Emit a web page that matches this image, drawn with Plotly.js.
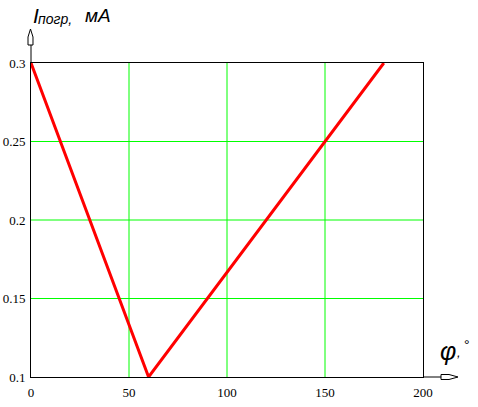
<!DOCTYPE html>
<html>
<head>
<meta charset="utf-8">
<script src="https://cdn.plot.ly/plotly-3.0.1.min.js"></script>
<style>html,body{margin:0;padding:0;background:#fff;}#chart{width:478px;height:407px;}</style>
</head>
<body>
<div id="chart"></div>
<script>
// Data
const phi = [0, 60, 180];
const current = [0.3, 0.1, 0.3];
const xTicks = [0, 50, 100, 150, 200];
const xTickLabels = ['0', '50', '100', '150', '200'];
const yTicks = [0.1, 0.15, 0.2, 0.25, 0.3];
const yTickLabels = ['0.1', '0.15', '0.2', '0.25', '0.3'];

const W = 478, H = 407;
const M = {l: 31, r: 55, t: 63, b: 30};
const pw = W - M.l - M.r, ph = H - M.t - M.b;
// pixel -> paper helpers for decorations (axis arrows)
const px = x => (x - M.l) / pw;
const py = y => (H - M.b - y) / ph;
function path(pts) {
  return 'M' + pts.map(p => px(p[0]).toFixed(5) + ',' + py(p[1]).toFixed(5)).join(' L') + ' Z';
}

const trace = {
  x: phi, y: current, type: 'scatter', mode: 'lines',
  line: {color: '#ff0000', width: 3}, hoverinfo: 'none'
};

const GRID = '#00ff00';
const gridShapes = [];
xTicks.slice(1, -1).forEach(v => gridShapes.push({type: 'line', layer: 'below', xref: 'x', yref: 'paper', x0: v, x1: v, y0: 0, y1: 1, line: {color: GRID, width: 1}}));
yTicks.slice(1, -1).forEach(v => gridShapes.push({type: 'line', layer: 'below', xref: 'paper', yref: 'y', x0: 0, x1: 1, y0: v, y1: v, line: {color: GRID, width: 1}}));

const tickFont = {family: 'Liberation Serif', size: 13, color: '#000'};
const sans = 'Liberation Sans';
const layout = {
  width: W, height: H,
  margin: M,
  paper_bgcolor: '#fff', plot_bgcolor: '#fff',
  showlegend: false,
  xaxis: {
    range: [0, 200], tickvals: xTicks, ticktext: xTickLabels,
    showgrid: false, zeroline: false, showline: true, mirror: true, linecolor: '#000', linewidth: 1,
    ticks: '', tickfont: tickFont, ticklabelstandoff: 3, fixedrange: true
  },
  yaxis: {
    range: [0.1, 0.3], tickvals: yTicks, ticktext: yTickLabels,
    showgrid: false, zeroline: false, showline: true, mirror: true, linecolor: '#000', linewidth: 1,
    ticks: '', tickfont: tickFont, ticklabelstandoff: 2, fixedrange: true
  },
  shapes: gridShapes.concat([
    // y axis extension + arrow head
    {type: 'line', xref: 'paper', yref: 'paper', x0: 0, x1: 0, y0: 1, y1: py(45), line: {color: '#000', width: 1}},
    {type: 'path', xref: 'paper', yref: 'paper', path: path([[28,45],[28,37],[30.5,29],[33,37],[33,45]]), line: {color: '#000', width: 1}, fillcolor: '#fff'},
    // x axis extension + arrow head
    {type: 'line', xref: 'paper', yref: 'paper', x0: 1, x1: px(441), y0: 0, y1: 0, line: {color: '#000', width: 1}},
    {type: 'path', xref: 'paper', yref: 'paper', path: path([[441,374.5],[449,374.5],[458,377],[449,379.5],[441,379.5]]), line: {color: '#000', width: 1}, fillcolor: '#fff'}
  ]),
  annotations: [
    {xref: 'paper', yref: 'paper', x: px(31), y: py(29), xanchor: 'left', yanchor: 'bottom', showarrow: false,
     text: '<i>I</i>', font: {family: sans, size: 21, color: '#000'}},
    {xref: 'paper', yref: 'paper', x: px(36), y: py(29), xanchor: 'left', yanchor: 'bottom', showarrow: false,
     text: '<i>погр,</i>', font: {family: sans, size: 14, color: '#000'}},
    {xref: 'paper', yref: 'paper', x: px(83), y: py(28), xanchor: 'left', yanchor: 'bottom', showarrow: false,
     text: '<i>мА</i>', font: {family: sans, size: 19, color: '#000'}},
    {xref: 'paper', yref: 'paper', x: px(438), y: py(367), xanchor: 'left', yanchor: 'bottom', showarrow: false,
     text: '<i>φ</i>', font: {family: sans, size: 25, color: '#000'}},
    {xref: 'paper', yref: 'paper', x: px(455), y: py(362), xanchor: 'left', yanchor: 'bottom', showarrow: false,
     text: '<i>,</i>', font: {family: sans, size: 13, color: '#000'}},
    {xref: 'paper', yref: 'paper', x: px(462), y: py(355), xanchor: 'left', yanchor: 'bottom', showarrow: false,
     text: '°', font: {family: sans, size: 14, color: '#000'}}
  ]
};

Plotly.newPlot('chart', [trace], layout, {staticPlot: true, displayModeBar: false});
</script>
</body>
</html>
